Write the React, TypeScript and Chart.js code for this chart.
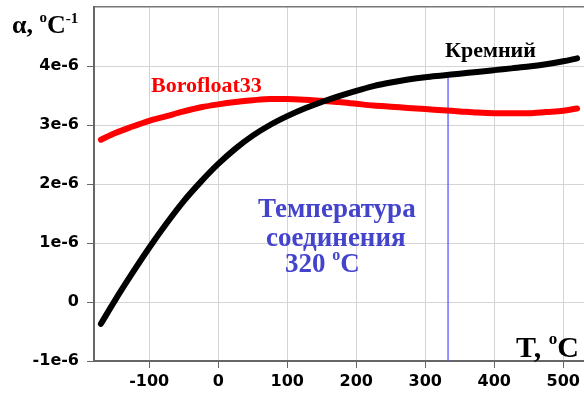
import React, { useEffect, useRef } from 'react';
import { Chart, registerables } from 'chart.js';

Chart.register(...registerables);

// Temperature samples (°C) and thermal expansion coefficient (×1e-6 1/°C)
const tempsSi = [-170, -150, -125, -100, -75, -50, -25, 0, 25, 50, 75, 100, 125, 150, 175, 200, 225, 250, 275, 300, 325, 350, 375, 400, 425, 450, 475, 500, 520];
const alphaSi = [-0.37, 0.02, 0.48, 0.92, 1.33, 1.71, 2.04, 2.34, 2.6, 2.82, 3.0, 3.15, 3.28, 3.39, 3.49, 3.58, 3.66, 3.72, 3.77, 3.81, 3.84, 3.87, 3.9, 3.93, 3.96, 3.99, 4.03, 4.08, 4.13];

const tempsBoro = [-170, -150, -125, -100, -75, -50, -25, 0, 25, 50, 75, 100, 125, 150, 175, 200, 225, 250, 275, 300, 325, 350, 375, 400, 425, 450, 475, 500, 520];
const alphaBoro = [2.75, 2.86, 2.97, 3.07, 3.15, 3.23, 3.3, 3.35, 3.39, 3.42, 3.44, 3.44, 3.43, 3.41, 3.39, 3.36, 3.33, 3.31, 3.29, 3.27, 3.25, 3.23, 3.21, 3.2, 3.2, 3.2, 3.22, 3.24, 3.28];

const bondTemp = [333, 333];
const bondAlpha = [-1.0, 3.86];

const xMin = -180;
const xMax = 530;
const xTickValues = [-100, 0, 100, 200, 300, 400, 500];
const yTickValues = [-1, 0, 1, 2, 3, 4, 5];

const toPoints = (xs: number[], ys: number[]) => xs.map((x, i) => ({ x, y: ys[i] * 1e-6 }));

const SERIF = '"Liberation Serif", "Times New Roman", serif';

const textPlugin = {
  id: 'annotTexts',
  afterDatasetsDraw(chart: any) {
    const ctx = chart.ctx as CanvasRenderingContext2D;
    ctx.save();
    ctx.textBaseline = 'alphabetic';
    ctx.textAlign = 'left';

    const seq = (parts: [string, number, number][], x: number, y: number, color: string) => {
      ctx.fillStyle = color;
      let cx = x;
      for (const [t, size, dy] of parts) {
        ctx.font = `bold ${size}px ${SERIF}`;
        ctx.fillText(t, cx, y + dy);
        cx += ctx.measureText(t).width;
      }
    };

    // y axis title
    seq([['α, ', 26, 0], ['o', 15, -11], ['C', 26, 0], ['-1', 15, -10]], 12, 33, '#000');
    // x axis title
    seq([['T, ', 30, 0], ['o', 17, -13], ['C', 30, 0]], 516, 357, '#000');
    // series labels
    seq([['Кремний', 22, 0]], 445, 57, '#000');
    seq([['Borofloat33', 22, 0]], 151, 92, '#ff0000');
    // bonding temperature
    const blue = '#4343cc';
    seq([['Температура', 27, 0]], 258, 217, blue);
    seq([['соединения', 27, 0]], 266, 246, blue);
    seq([['320 ', 27, 0], ['o', 16, -12], ['C', 27, 0]], 285, 272, blue);
    ctx.restore();
  },
};

export default function App() {
  const ref = useRef<HTMLCanvasElement>(null);

  useEffect(() => {
    if (!ref.current) return;
    const chart = new Chart(ref.current, {
      type: 'line',
      data: {
        datasets: [
          {
            label: 'Кремний',
            data: toPoints(tempsSi, alphaSi),
            borderColor: '#000000',
            borderWidth: 6,
            pointRadius: 0,
            cubicInterpolationMode: 'monotone',
            borderCapStyle: 'round',
            borderJoinStyle: 'round',
            order: 0,
          },
          {
            label: 'Borofloat33',
            data: toPoints(tempsBoro, alphaBoro),
            borderColor: '#ff0000',
            borderWidth: 6,
            pointRadius: 0,
            cubicInterpolationMode: 'monotone',
            borderCapStyle: 'round',
            borderJoinStyle: 'round',
            order: 1,
          },
          {
            label: 'bond',
            data: toPoints(bondTemp, bondAlpha),
            borderColor: '#5a5aff',
            borderWidth: 1.3,
            pointRadius: 0,
            order: 2,
          },
        ],
      },
      options: {
        responsive: false,
        animation: false,
        layout: { padding: { top: 7, left: 0, right: 0, bottom: 0 } },
        plugins: { legend: { display: false }, tooltip: { enabled: false } },
        scales: {
          x: {
            type: 'linear',
            min: xMin,
            max: xMax,
            afterBuildTicks: (s: any) => {
              s.ticks = xTickValues.map((v) => ({ value: v }));
            },
            border: { color: '#666', width: 2 },
            grid: { color: '#d4d4d4', lineWidth: 1, tickColor: '#666', tickLength: 7 },
            ticks: {
              padding: 4,
              color: '#000',
              font: { family: '"DejaVu Sans"', size: 16, weight: 'bold' },
              callback: (v: any) => String(Math.round(Number(v))),
            },
            afterFit: (s: any) => {
              s.height = 40;
              s.paddingLeft = 0;
              s.paddingRight = 0;
            },
          },
          y: {
            type: 'linear',
            min: -1e-6,
            max: 5e-6,
            afterBuildTicks: (s: any) => {
              s.ticks = yTickValues.map((v) => ({ value: v * 1e-6 }));
            },
            border: { color: '#666', width: 2 },
            grid: {
              color: (c: any) => (c.tick && Math.round(c.tick.value * 1e6) === 5 ? '#777' : '#d4d4d4'),
              lineWidth: (c: any) => (c.tick && Math.round(c.tick.value * 1e6) === 5 ? 1.5 : 1),
              tickColor: (c: any) => (c.tick && Math.round(c.tick.value * 1e6) === 5 ? 'rgba(0,0,0,0)' : '#666'),
              tickLength: 7,
            },
            ticks: {
              padding: 8,
              color: '#000',
              font: { family: '"DejaVu Sans"', size: 16, weight: 'bold' },
              callback: (v: any) => {
                const n = Math.round(Number(v) * 1e6);
                if (n === 5) return '';
                if (n === 0) return '0';
                return `${n}e-6`;
              },
            },
            afterFit: (s: any) => {
              s.width = 94;
              s.paddingTop = 0;
              s.paddingBottom = 0;
            },
          },
        },
      },
      plugins: [textPlugin],
    });
    return () => chart.destroy();
  }, []);

  return (
    <div style={{ position: 'absolute', left: 0, top: 0, width: 584, height: 401, background: '#fff' }}>
      <canvas ref={ref} width={584} height={401} style={{ display: 'block' }} />
    </div>
  );
}
